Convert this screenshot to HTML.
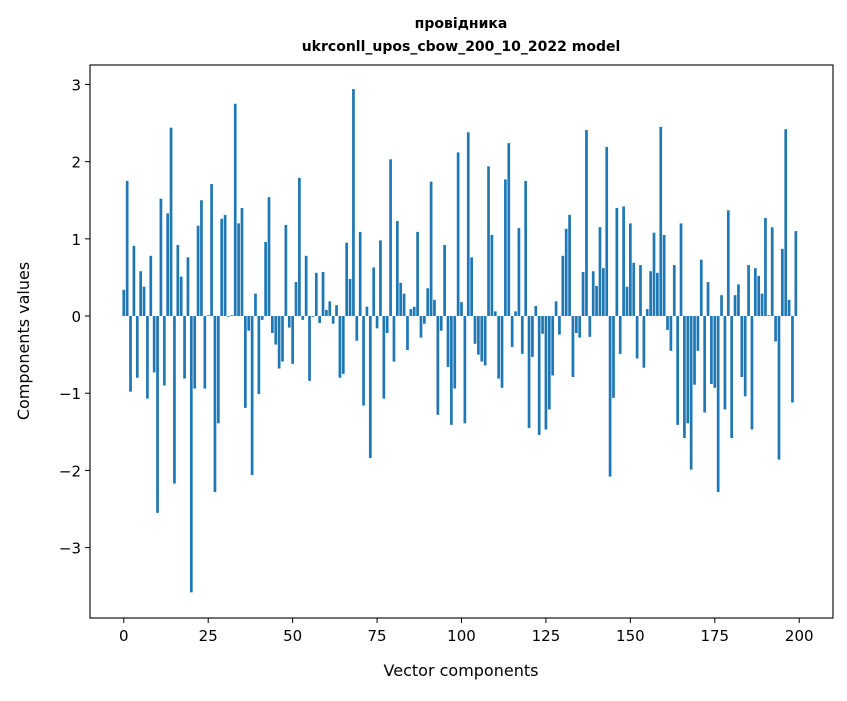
<!DOCTYPE html>
<html><head><meta charset="utf-8"><style>
body{margin:0;background:#fff}
svg text{font-family:"DejaVu Sans","Liberation Sans",sans-serif;fill:#000}
</style></head><body>
<svg id="chart" width="847" height="696" xmlns="http://www.w3.org/2000/svg">
<rect width="847" height="696" fill="#fff"/>
<text x="461" y="28" text-anchor="middle" font-size="14" font-weight="bold">провідника</text>
<text x="461" y="51" text-anchor="middle" font-size="14" font-weight="bold">ukrconll_upos_cbow_200_10_2022 model</text>
<g id="bars"></g>
<g id="axes"></g>
<text x="461" y="676" text-anchor="middle" font-size="16">Vector components</text>
<text transform="translate(29,341) rotate(-90)" text-anchor="middle" font-size="16">Components values</text>
</svg>
<script>
const values = [0.34,1.75,-0.98,0.91,-0.80,0.58,0.38,-1.07,0.78,-0.73,-2.55,1.52,-0.90,1.33,2.44,-2.17,0.92,0.51,-0.81,0.76,
-3.58,-0.94,1.17,1.50,-0.94,0.01,1.71,-2.28,-1.39,1.26,1.31,-0.01,0.01,2.75,1.20,1.40,-1.19,-0.19,-2.06,0.29,
-1.01,-0.05,0.96,1.54,-0.22,-0.37,-0.68,-0.59,1.18,-0.15,-0.62,0.44,1.79,-0.05,0.78,-0.84,-0.01,0.56,-0.09,0.57,
0.08,0.19,-0.10,0.14,-0.80,-0.75,0.95,0.48,2.94,-0.32,1.09,-1.16,0.12,-1.84,0.63,-0.16,0.98,-1.07,-0.22,2.03,
-0.59,1.23,0.43,0.29,-0.44,0.09,0.12,1.09,-0.28,-0.10,0.36,1.74,0.21,-1.28,-0.19,0.92,-0.66,-1.41,-0.94,2.12,
0.18,-1.39,2.38,0.76,-0.36,-0.50,-0.59,-0.64,1.94,1.05,0.06,-0.81,-0.93,1.77,2.24,-0.40,0.06,1.14,-0.49,1.75,
-1.45,-0.53,0.13,-1.54,-0.23,-1.47,-1.21,-0.77,0.19,-0.24,0.78,1.13,1.31,-0.79,-0.22,-0.28,0.57,2.41,-0.27,0.58,
0.39,1.15,0.62,2.19,-2.08,-1.06,1.40,-0.49,1.42,0.38,1.20,0.69,-0.55,0.66,-0.67,0.09,0.58,1.08,0.56,2.45,
1.05,-0.18,-0.45,0.66,-1.41,1.20,-1.58,-1.39,-1.99,-0.89,-0.45,0.73,-1.25,0.44,-0.88,-0.93,-2.28,0.27,-1.21,1.37,
-1.58,0.27,0.41,-0.79,-1.04,0.66,-1.47,0.62,0.52,0.29,1.27,0.01,1.15,-0.33,-1.86,0.87,2.42,0.21,-1.12,1.10];
const xTicks = [0,25,50,75,100,125,150,175,200];
const yTicks = [-3,-2,-1,0,1,2,3];
const yTickLabels = ["\u22123","\u22122","\u22121","0","1","2","3"];
const L=90,R=833,T=65,B=618;
const xMin=-10,xMax=210,yMin=-3.912,yMax=3.252;
const xs=v=>L+(v-xMin)/(xMax-xMin)*(R-L);
const ys=v=>B-(v-yMin)/(yMax-yMin)*(B-T);
const NS="http://www.w3.org/2000/svg";
const bars=document.getElementById('bars');
const bw=(xs(0.8)-xs(0));
values.forEach((v,i)=>{
  const r=document.createElementNS(NS,'rect');
  
  
  const y0=ys(0),y1=ys(v);
  r.setAttribute('x',xs(i)-bw/2);
  r.setAttribute('width',bw);
  r.setAttribute('y',Math.min(y0,y1));
  r.setAttribute('height',Math.abs(y1-y0));
  r.setAttribute('fill','#1f77b4');
  bars.appendChild(r);
});
const axes=document.getElementById('axes');
const frame=document.createElementNS(NS,'rect');


frame.setAttribute('x',L);frame.setAttribute('y',T);
frame.setAttribute('width',R-L);frame.setAttribute('height',B-T);
frame.setAttribute('fill','none');frame.setAttribute('stroke','#000');frame.setAttribute('stroke-width','1.1');
axes.appendChild(frame);
xTicks.forEach(t=>{
  const l=document.createElementNS(NS,'line');
  
  
  l.setAttribute('x1',xs(t));l.setAttribute('x2',xs(t));l.setAttribute('y1',B);l.setAttribute('y2',B+5);
  l.setAttribute('stroke','#000');
  axes.appendChild(l);
  const tx=document.createElementNS(NS,'text');
  
  
  tx.setAttribute('x',xs(t));tx.setAttribute('y',B+23);
  tx.setAttribute('text-anchor','middle');tx.setAttribute('font-size','15');
  tx.textContent=t;
  axes.appendChild(tx);
});
yTicks.forEach((t,i)=>{
  const l=document.createElementNS(NS,'line');
  
  
  l.setAttribute('x1',L-5);l.setAttribute('x2',L);l.setAttribute('y1',ys(t));l.setAttribute('y2',ys(t));
  l.setAttribute('stroke','#000');
  axes.appendChild(l);
  const tx=document.createElementNS(NS,'text');
  
  
  tx.setAttribute('x',L-9);tx.setAttribute('y',ys(t)+6);
  tx.setAttribute('text-anchor','end');tx.setAttribute('font-size','15');
  tx.textContent=yTickLabels[i];
  axes.appendChild(tx);
});
</script>
</body></html>
